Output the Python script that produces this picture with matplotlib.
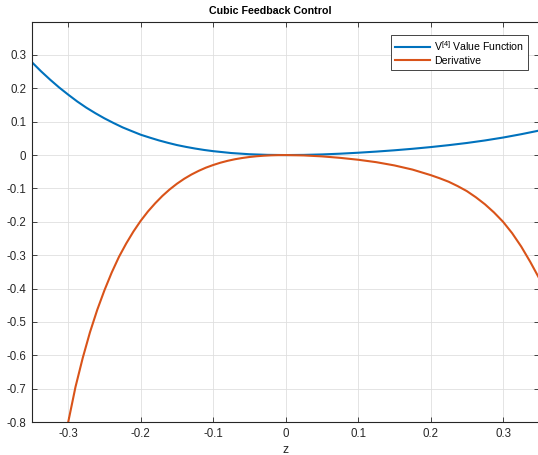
import matplotlib
matplotlib.use("Agg")
import matplotlib.pyplot as plt

plt.rcParams['font.family'] = ['Liberation Sans', 'DejaVu Sans']
plt.rcParams['mathtext.fontset'] = 'custom'
plt.rcParams['mathtext.rm'] = 'Liberation Sans'
plt.rcParams['mathtext.it'] = 'Liberation Sans:italic'

# ---- data ----
value_z = [-0.35, -0.3375, -0.325, -0.3125, -0.3, -0.2875, -0.275, -0.2625, -0.25, -0.2375,
           -0.225, -0.2125, -0.2, -0.1875, -0.175, -0.1625, -0.15, -0.1375, -0.125, -0.1125,
           -0.1, -0.075, -0.05, -0.025, 0.0, 0.025, 0.05, 0.075, 0.1, 0.125,
           0.15, 0.175, 0.2, 0.225, 0.25, 0.275, 0.3, 0.325, 0.35]
value_v = [0.278, 0.251, 0.226, 0.2025, 0.181, 0.1605, 0.142, 0.1254, 0.110, 0.0961,
           0.083, 0.0719, 0.061, 0.0523, 0.044, 0.0367, 0.030, 0.0245, 0.0196, 0.0153,
           0.0117, 0.0061, 0.0025, 0.0006, 0.0, 0.0005, 0.0019, 0.0041, 0.0070, 0.0104,
           0.0143, 0.0188, 0.0239, 0.0297, 0.0362, 0.0438, 0.0525, 0.0625, 0.0735]

deriv_z = [-0.30, -0.29, -0.28, -0.27, -0.26, -0.25, -0.24, -0.23, -0.22, -0.21,
           -0.20, -0.19, -0.18, -0.17, -0.16, -0.15, -0.14, -0.13, -0.12, -0.11,
           -0.10, -0.09, -0.08, -0.07, -0.06, -0.05, -0.04, -0.03, -0.02, -0.01,
           0.0, 0.025, 0.05, 0.075, 0.1, 0.125, 0.15, 0.175, 0.2, 0.2125,
           0.225, 0.2375, 0.25, 0.2625, 0.275, 0.2875, 0.3, 0.3125, 0.325, 0.3375,
           0.35]
deriv_v = [-0.800, -0.695, -0.608, -0.531, -0.464, -0.405, -0.352, -0.305, -0.265, -0.229,
           -0.197, -0.169, -0.1445, -0.1223, -0.1029, -0.0859, -0.0711, -0.0583, -0.0473, -0.0377,
           -0.0298, -0.0229, -0.0172, -0.0125, -0.0088, -0.0058, -0.0035, -0.0019, -0.0008, -0.0002,
           0.0, -0.0011, -0.0039, -0.0083, -0.0140, -0.0213, -0.0310, -0.0435, -0.0600, -0.0695,
           -0.0800, -0.0932, -0.1080, -0.1265, -0.1475, -0.1720, -0.2000, -0.2340, -0.2740, -0.3200,
           -0.3700]

x_ticks = [-0.3, -0.2, -0.1, 0.0, 0.1, 0.2, 0.3]
x_tick_labels = ['-0.3', '-0.2', '-0.1', '0', '0.1', '0.2', '0.3']
y_ticks = [-0.8, -0.7, -0.6, -0.5, -0.4, -0.3, -0.2, -0.1, 0.0, 0.1, 0.2, 0.3]
y_tick_labels = ['-0.8', '-0.7', '-0.6', '-0.5', '-0.4', '-0.3', '-0.2', '-0.1', '0', '0.1', '0.2', '0.3']

series_labels = [r'V$^{[4]}$ Value Function', 'Derivative']
title_text = 'Cubic Feedback Control'
xlabel_text = 'z'

W, H = 538, 455
fig = plt.figure(figsize=(W / 100, H / 100), dpi=100)
left, right, bottom, top = 32, 539.3, 422, 21.6
ax = fig.add_axes([left / W, 1 - bottom / H, (right - left) / W, (bottom - top) / H])

blue = '#0072BD'
orange = '#D95319'
ax.plot(value_z, value_v, color=blue, lw=1.5, label=series_labels[0])
ax.plot(deriv_z, deriv_v, color=orange, lw=1.5, label=series_labels[1])

ax.set_xlim(-0.35, 0.35)
ax.set_ylim(-0.8, 0.4)
ax.set_xticks(x_ticks, x_tick_labels)
ax.set_yticks(y_ticks, y_tick_labels)

axcol = '#262626'
ax.tick_params(direction='in', length=3.5, width=0.6, colors=axcol, labelsize=8.3,
               top=True, right=True, pad=4)
for s in ax.spines.values():
    s.set_color(axcol)
    s.set_linewidth(0.8)
ax.grid(True, color='#dfdfdf', lw=0.6)
ax.set_axisbelow(True)

title_x = (270 - left) / (right - left)
ax.set_title(title_text, fontsize=7.7, fontweight='bold', color='black', pad=5.5, x=title_x)
ax.set_xlabel(xlabel_text, fontsize=8.8, color=axcol, labelpad=3)

leg = ax.legend(loc='upper right', bbox_to_anchor=(528 / W, 1 - 35 / H),
                bbox_transform=fig.transFigure, borderaxespad=0, fontsize=7.6,
                handlelength=3.3, handletextpad=0.35, labelspacing=0.25,
                borderpad=0.4, fancybox=False, framealpha=1, edgecolor='#262626')
leg.get_frame().set_linewidth(0.6)

fig.savefig('out.png', dpi=100)
